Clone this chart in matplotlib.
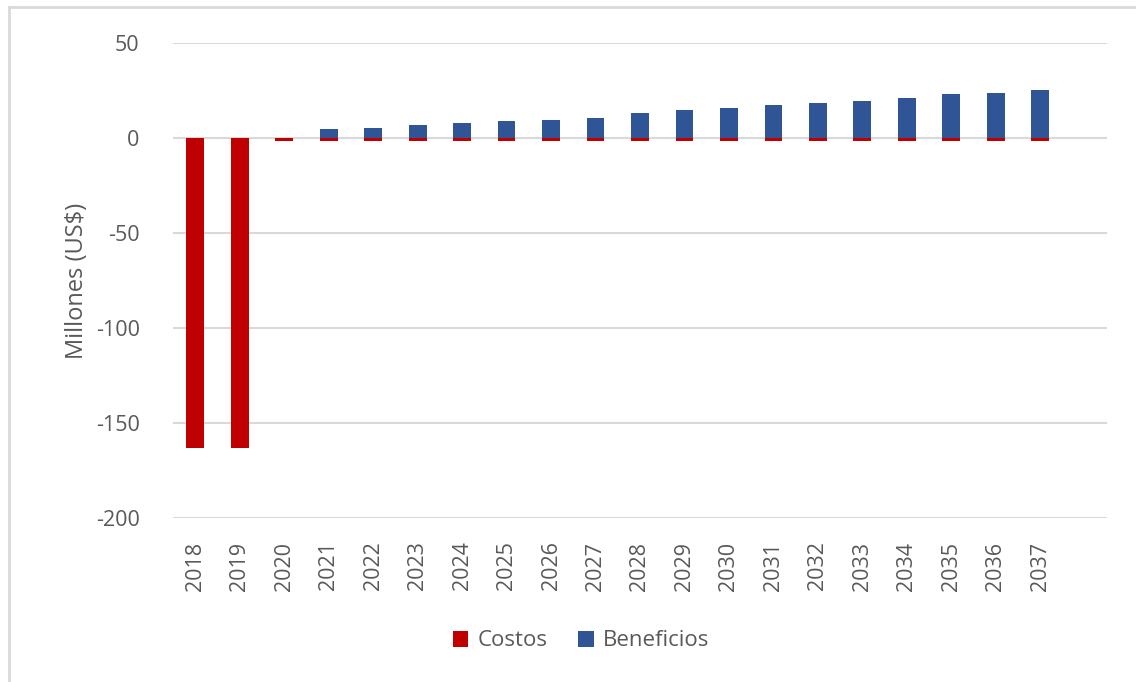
import matplotlib.pyplot as plt
from matplotlib.lines import Line2D

years = [str(y) for y in range(2018, 2038)]
costos = [-163, -163, -1.5] + [-1.5] * 17
beneficios = [0, 0, 0, 4.6, 5.4, 7.1, 8.0, 8.7, 9.7, 10.3, 13.4, 14.5,
              16.0, 17.6, 18.3, 19.7, 21.3, 23.0, 23.7, 25.3]

RED = '#C00000'
BLUE = '#2F5597'
GREY = '#595959'

plt.rcParams['font.family'] = ['Open Sans', 'DejaVu Sans']
plt.rcParams['axes.unicode_minus'] = False

fig = plt.figure(figsize=(11.36, 6.82), dpi=100)
ax = fig.add_axes([173 / 1136, 1 - 518 / 682, (1107 - 173) / 1136, (518 - 43) / 682])

x = list(range(len(years)))
ax.bar(x, costos, width=0.4, color=RED, label='Costos', zorder=3)
ax.bar(x, beneficios, width=0.4, color=BLUE, label='Beneficios', zorder=3)

ax.set_xlim(-0.5, len(years) + 0.5)
ax.set_ylim(-200, 50)
ax.set_yticks([50, 0, -50, -100, -150, -200])
ax.grid(axis='y', color='#d9d9d9', linewidth=1.5, zorder=0)
for s in ax.spines.values():
    s.set_visible(False)
ax.tick_params(length=0, labelcolor=GREY, labelsize=15.5)
ax.tick_params(axis='y', pad=24)
ax.tick_params(axis='x', pad=17)
ax.set_xticks(x)
ax.set_xticklabels(years, rotation=90)
ax.set_ylabel('Millones (US$)', color=GREY, fontsize=17, labelpad=5)

fig.legend(loc='center', bbox_to_anchor=(581 / 1136, 1 - 641 / 682), ncol=2,
           frameon=False, fontsize=16, labelcolor=GREY, handlelength=0.7,
           handleheight=0.7, handletextpad=0.4, columnspacing=1.4)

# chart-area border (left and top visible)
fig.add_artist(Line2D([9 / 1136, 9 / 1136], [0, 1 - 7 / 682], color='#d9d9d9', lw=2))
fig.add_artist(Line2D([9 / 1136, 1], [1 - 7 / 682, 1 - 7 / 682], color='#d9d9d9', lw=2))

fig.savefig('out.png', dpi=100)
